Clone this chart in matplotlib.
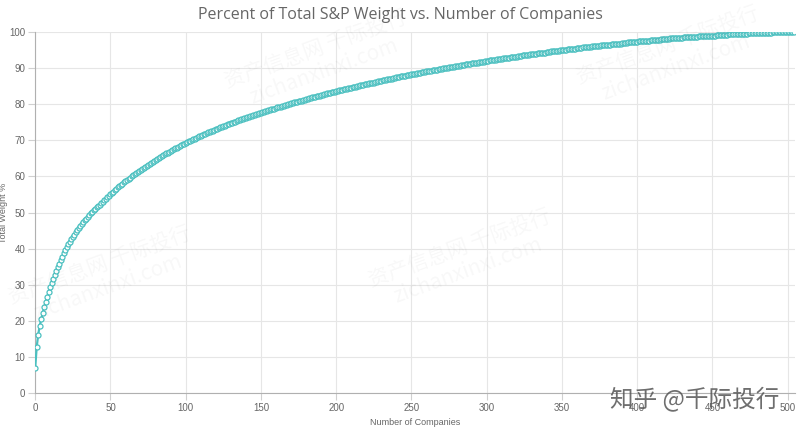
import matplotlib
matplotlib.use("Agg")
import matplotlib.pyplot as plt

# cumulative index weight (%), one value per company (rank 0..504)
total_weight = [
    6.9, 12.8, 16.2, 18.6, 20.5, 22.2, 23.8, 25.3, 26.7, 28.0,
    29.4, 30.6, 31.7, 32.8, 33.8, 34.8, 35.8, 36.8, 37.8, 38.8,
    39.7, 40.5, 41.2, 41.9, 42.6, 43.3, 43.9, 44.5, 45.1, 45.7,
    46.3, 46.8, 47.3, 47.8, 48.3, 48.8, 49.3, 49.8, 50.2, 50.6,
    51.0, 51.4, 51.8, 52.2, 52.6, 53.0, 53.4, 53.8, 54.2, 54.6,
    55.0, 55.4, 55.8, 56.2, 56.6, 57.0, 57.3, 57.7, 58.0, 58.4,
    58.7, 59.1, 59.4, 59.7, 60.0, 60.3, 60.6, 60.9, 61.2, 61.5,
    61.8, 62.1, 62.4, 62.7, 63.0, 63.3, 63.5, 63.8, 64.1, 64.3,
    64.6, 64.9, 65.1, 65.4, 65.6, 65.9, 66.1, 66.4, 66.6, 66.8,
    67.1, 67.3, 67.5, 67.8, 68.0, 68.2, 68.4, 68.7, 68.9, 69.1,
    69.3, 69.5, 69.7, 69.9, 70.1, 70.3, 70.5, 70.7, 70.9, 71.1,
    71.3, 71.5, 71.7, 71.8, 72.0, 72.2, 72.4, 72.6, 72.7, 72.9,
    73.1, 73.2, 73.4, 73.6, 73.7, 73.9, 74.1, 74.2, 74.4, 74.5,
    74.7, 74.9, 75.0, 75.2, 75.3, 75.5, 75.6, 75.8, 75.9, 76.1,
    76.2, 76.4, 76.5, 76.7, 76.8, 76.9, 77.1, 77.2, 77.4, 77.5,
    77.6, 77.8, 77.9, 78.0, 78.2, 78.3, 78.4, 78.6, 78.7, 78.8,
    79.0, 79.1, 79.2, 79.3, 79.5, 79.6, 79.7, 79.8, 80.0, 80.1,
    80.2, 80.3, 80.5, 80.6, 80.7, 80.8, 80.9, 81.0, 81.2, 81.3,
    81.4, 81.5, 81.6, 81.7, 81.9, 82.0, 82.1, 82.2, 82.3, 82.4,
    82.5, 82.6, 82.7, 82.8, 83.0, 83.1, 83.2, 83.3, 83.4, 83.5,
    83.6, 83.7, 83.8, 83.9, 84.0, 84.1, 84.2, 84.3, 84.4, 84.5,
    84.6, 84.7, 84.8, 84.9, 85.0, 85.1, 85.2, 85.3, 85.4, 85.5,
    85.6, 85.7, 85.8, 85.9, 86.0, 86.0, 86.1, 86.2, 86.3, 86.4,
    86.5, 86.6, 86.7, 86.8, 86.9, 87.0, 87.0, 87.1, 87.2, 87.3,
    87.4, 87.5, 87.6, 87.7, 87.7, 87.8, 87.9, 88.0, 88.1, 88.2,
    88.3, 88.3, 88.4, 88.5, 88.6, 88.7, 88.7, 88.8, 88.9, 89.0,
    89.1, 89.1, 89.2, 89.3, 89.4, 89.4, 89.5, 89.6, 89.7, 89.7,
    89.8, 89.9, 90.0, 90.0, 90.1, 90.2, 90.3, 90.3, 90.4, 90.5,
    90.6, 90.6, 90.7, 90.8, 90.8, 90.9, 91.0, 91.1, 91.1, 91.2,
    91.3, 91.3, 91.4, 91.5, 91.5, 91.6, 91.7, 91.7, 91.8, 91.9,
    91.9, 92.0, 92.1, 92.1, 92.2, 92.3, 92.3, 92.4, 92.5, 92.5,
    92.6, 92.7, 92.7, 92.8, 92.8, 92.9, 93.0, 93.0, 93.1, 93.2,
    93.2, 93.3, 93.3, 93.4, 93.5, 93.5, 93.6, 93.6, 93.7, 93.8,
    93.8, 93.9, 93.9, 94.0, 94.1, 94.1, 94.2, 94.2, 94.3, 94.3,
    94.4, 94.5, 94.5, 94.6, 94.6, 94.7, 94.7, 94.8, 94.8, 94.9,
    95.0, 95.0, 95.1, 95.1, 95.2, 95.2, 95.3, 95.3, 95.4, 95.4,
    95.5, 95.5, 95.6, 95.6, 95.7, 95.7, 95.8, 95.8, 95.9, 95.9,
    96.0, 96.0, 96.1, 96.1, 96.2, 96.2, 96.3, 96.3, 96.4, 96.4,
    96.4, 96.5, 96.5, 96.6, 96.6, 96.7, 96.7, 96.8, 96.8, 96.8,
    96.9, 96.9, 97.0, 97.0, 97.1, 97.1, 97.2, 97.2, 97.2, 97.3,
    97.3, 97.4, 97.4, 97.4, 97.5, 97.5, 97.6, 97.6, 97.6, 97.7,
    97.7, 97.8, 97.8, 97.8, 97.9, 97.9, 98.0, 98.0, 98.0, 98.1,
    98.1, 98.1, 98.2, 98.2, 98.2, 98.3, 98.3, 98.3, 98.4, 98.4,
    98.4, 98.5, 98.5, 98.5, 98.6, 98.6, 98.6, 98.6, 98.7, 98.7,
    98.7, 98.8, 98.8, 98.8, 98.8, 98.9, 98.9, 98.9, 98.9, 99.0,
    99.0, 99.0, 99.0, 99.1, 99.1, 99.1, 99.1, 99.2, 99.2, 99.2,
    99.2, 99.3, 99.3, 99.3, 99.3, 99.4, 99.4, 99.4, 99.4, 99.5,
    99.5, 99.5, 99.5, 99.5, 99.6, 99.6, 99.6, 99.6, 99.6, 99.7,
    99.7, 99.7, 99.7, 99.7, 99.8, 99.8, 99.8, 99.8, 99.8, 99.8,
    99.9, 99.9, 99.9, 99.9, 99.9, 99.9, 99.9, 100.0, 100.0, 100.0,
    100.0, 100.0, 100.0, 100.0, 100.0,
]
companies = list(range(len(total_weight)))

x_ticks = [0, 50, 100, 150, 200, 250, 300, 350, 400, 450, 500]
y_ticks = [0, 10, 20, 30, 40, 50, 60, 70, 80, 90, 100]

title = "Percent of Total S&P Weight vs. Number of Companies"
line_color = "#4bc0c0"
text_grey = "#666666"

plt.rcParams['font.family'] = ['Liberation Sans', 'Noto Sans CJK SC', 'DejaVu Sans']

fig = plt.figure(figsize=(8, 4.32), dpi=100)
ax = fig.add_axes([0.044, 0.090, 0.950, 0.836])

# faint tiled watermark (kept inside the figure)
wm_spots = [(0.13, 0.36), (0.58, 0.40), (0.40, 0.86), (0.84, 0.87)]
for wx, wy in wm_spots:
    fig.text(wx, wy, "资产信息网 千际投行\nzichanxinxi.com", fontsize=15, color="#000000",
             alpha=0.03, rotation=20, ha="center", va="center", linespacing=1.1,
             family=['Noto Sans CJK SC', 'DejaVu Sans'])

ax.plot(companies, total_weight, color=line_color, linewidth=1.6, marker="o", markersize=3.6,
        markerfacecolor="white", markeredgecolor=line_color, markeredgewidth=0.9, zorder=3)

ax.set_xlim(0, 505)
ax.set_ylim(0, 100)
ax.set_xticks(x_ticks)
ax.set_yticks(y_ticks)
ax.grid(True, color="#e6e6e6", linewidth=0.8)
ax.set_axisbelow(True)
for side in ["top", "right"]:
    ax.spines[side].set_visible(False)
for side in ["left", "bottom"]:
    ax.spines[side].set_color("#b0b0b0")
ax.tick_params(colors="#d0d0d0", labelcolor=text_grey, labelsize=7, length=5, width=0.8, pad=2)

# chart title is centred on the whole canvas, not on the plot area
fig.text(0.5, 0.966, title, fontsize=11.5, color=text_grey, ha="center", va="center",
         family=['Open Sans', 'DejaVu Sans'])
ax.set_xlabel("Number of Companies", fontsize=6.5, color=text_grey, labelpad=4)
ax.set_ylabel("Total Weight %", fontsize=6.5, color=text_grey)
ax.yaxis.set_label_coords(-0.036, 0.5)

fig.text(0.762, 0.075, "知乎 @千际投行", fontsize=17, color="#555555", alpha=0.85,
         ha="left", va="center", family=['Noto Sans CJK SC', 'DejaVu Sans'])

fig.savefig("out.png", dpi=100, facecolor="white")
